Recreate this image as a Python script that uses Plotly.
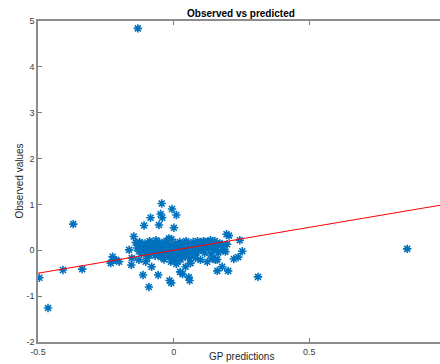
import plotly.graph_objects as go

# Scattered points (GP prediction, observed value)
pred_x = [
    -0.132, -0.495, -0.463, -0.370, -0.408, -0.337, 0.861, 0.311,
    -0.044, -0.006, -0.085, -0.048, -0.042, -0.109, -0.054, 0.001, 0.010,
    -0.147, -0.140, -0.225, -0.213, -0.232, -0.201, -0.223, -0.156,
    -0.113, -0.057, -0.091, -0.015, -0.009, 0.024, 0.033, 0.056, 0.059,
    0.161, 0.195, 0.204, 0.244, 0.161, 0.179, 0.197, 0.191, 0.253,
    0.222, 0.238, 0.161, 0.179, 0.201, -0.164, -0.154, -0.097, -0.081,
    -0.128, -0.103, -0.115, -0.085, -0.017, 0.136, 0.148, 0.0625, 0.081,
    0.099, 0.124, 0.014, 0.044, 0.142, 0.154, 0.136, 0.111,
    -0.135, -0.128, -0.120, -0.118, -0.110, -0.105, -0.100, -0.125,
    -0.095, -0.090, -0.088, -0.082, -0.078, -0.072, -0.068, -0.065, -0.062,
    -0.058, -0.055, -0.052, -0.050, -0.047, -0.044, -0.040, -0.038, -0.035,
    -0.032, -0.030, -0.027, -0.025, -0.022,
    -0.018, -0.015, -0.012, -0.010, -0.008, -0.005, -0.002, 0.000, 0.002,
    0.005, 0.007, 0.010, 0.012, 0.015, 0.018, 0.020,
    0.023, 0.026, 0.030, 0.033, 0.036, 0.040, 0.043, 0.046, 0.050, 0.053,
    0.057, 0.060,
    0.064, 0.068, 0.072, 0.076, 0.080, 0.084, 0.088, 0.092, 0.096,
    0.100, 0.105, 0.110, 0.115, 0.120, 0.125, 0.130, 0.138, 0.145,
    0.152, 0.158, 0.165, 0.170, 0.180, 0.185,
]
obs_y = [
    4.84, -0.60, -1.26, 0.57, -0.43, -0.41, 0.03, -0.58,
    1.02, 0.90, 0.71, 0.79, 0.71, 0.54, 0.55, 0.49, 0.77,
    0.30, 0.17, -0.14, -0.21, -0.28, -0.25, -0.21, -0.32,
    -0.54, -0.54, -0.80, -0.66, -0.71, -0.47, -0.52, -0.59, -0.66,
    -0.45, 0.35, 0.32, 0.22, 0.12, 0.12, 0.13, -0.03, -0.02,
    -0.19, -0.15, -0.20, -0.36, -0.45, 0.01, -0.17, -0.17, -0.36,
    -0.21, -0.25, 0.12, 0.04, 0.26, 0.22, 0.01, -0.28, -0.17,
    -0.21, -0.25, -0.25, -0.36, -0.17, -0.21, 0.19, 0.19,
    0.05, -0.02, 0.10, -0.08, 0.03, 0.15, -0.05, 0.18,
    0.08, -0.10, 0.20, -0.02, 0.12, 0.05, -0.12, 0.22, -0.04,
    0.10, -0.08, 0.18, 0.02, -0.15, 0.08, -0.02, 0.14, -0.20,
    0.05, -0.10, 0.20, 0.00, -0.06,
    0.12, -0.14, 0.06, -0.25, 0.24, -0.03, 0.09, -0.18, 0.02,
    -0.08, 0.16, -0.30, 0.04, -0.12, 0.10, -0.04,
    0.18, -0.20, 0.06, -0.08, 0.12, 0.00, -0.14, 0.20, 0.04, -0.05,
    0.14, -0.18,
    0.08, -0.06, 0.18, 0.02, -0.10, 0.12, 0.20, -0.02, 0.08,
    0.16, 0.02, 0.20, -0.06, 0.10, 0.18, 0.04, -0.08, 0.14,
    0.20, 0.06, -0.05, 0.15, 0.02, 0.08,
]

# Reference line
line_x = [-0.5, 1.0]
line_y = [-0.5, 1.0]

x_ticks = [-0.5, 0, 0.5]
x_tick_labels = ["-0.5", "0", "0.5"]
y_ticks = [-2, -1, 0, 1, 2, 3, 4, 5]
y_tick_labels = ["-2", "-1", "0", "1", "2", "3", "4", "5"]

W, H = 440, 364
L, T, B, R = 38, 21, 22, 0

fig = go.Figure()
fig.add_trace(go.Scatter(
    x=pred_x, y=obs_y, mode="markers",
    marker=dict(symbol="asterisk-open", size=7, color="#0072BD",
                line=dict(color="#0072BD", width=1.6)),
    showlegend=False, hoverinfo="skip",
))
fig.add_trace(go.Scatter(
    x=line_x, y=line_y, mode="lines",
    line=dict(color="#FF0000", width=1),
    showlegend=False, hoverinfo="skip",
))

axis_font = dict(family="Liberation Sans, Arial, sans-serif", size=9, color="#3c3c3c")

fig.update_layout(
    width=W, height=H,
    margin=dict(l=L, r=R, t=T, b=B),
    paper_bgcolor="white", plot_bgcolor="white",
    xaxis=dict(
        range=[-0.5, 0.982], tickvals=x_ticks, ticktext=x_tick_labels,
        ticks="inside", ticklen=4, tickcolor="#7a7a7a", tickwidth=1,
        showline=True, linecolor="#8c8c8c", linewidth=1.5, mirror="ticks",
        showgrid=False, zeroline=False, tickfont=axis_font,
    ),
    yaxis=dict(
        range=[-2, 5], tickvals=y_ticks, ticktext=y_tick_labels,
        ticks="inside", ticklen=4, tickcolor="#7a7a7a", tickwidth=1,
        showline=True, linecolor="#8c8c8c", linewidth=1.5,
        showgrid=False, zeroline=False, tickfont=axis_font,
    ),
    font=dict(family="Liberation Sans, Arial, sans-serif"),
    annotations=[
        dict(text="<b>Observed vs predicted</b>", xref="paper", yref="paper",
             x=(241 - L) / (W - L - R), y=(T - 13) / (H - T - B) + 1,
             xanchor="center", yanchor="middle", showarrow=False,
             font=dict(size=10, color="#000000", family="Liberation Sans, Arial, sans-serif")),
        dict(text="GP predictions", xref="paper", yref="paper",
             x=(241 - L) / (W - L - R), y=-(356 - (H - B)) / (H - T - B),
             xanchor="center", yanchor="middle", showarrow=False,
             font=dict(size=10, color="#262626", family="Liberation Sans, Arial, sans-serif")),
        dict(text="Observed values", xref="paper", yref="paper",
             x=-(L - 19) / (W - L - R), y=0.5, textangle=-90,
             xanchor="center", yanchor="middle", showarrow=False,
             font=dict(size=10, color="#262626", family="Liberation Sans, Arial, sans-serif")),
    ],
)

fig.write_html("out.html")
